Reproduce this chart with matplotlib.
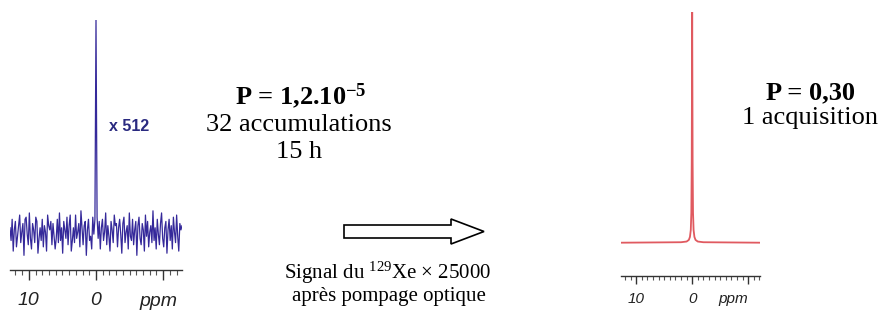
import numpy as np
import matplotlib
matplotlib.use("Agg")
import matplotlib.pyplot as plt
from matplotlib.ticker import MultipleLocator
from matplotlib.patches import FancyArrow

plt.rcParams['font.family'] = ['Liberation Serif', 'DejaVu Serif']
plt.rcParams['mathtext.fontset'] = 'custom'
plt.rcParams['mathtext.rm'] = 'Liberation Serif'
plt.rcParams['mathtext.bf'] = 'Liberation Serif:bold'
plt.rcParams['mathtext.it'] = 'Liberation Serif:italic'

# thermal spectrum (x 512), intensities, peak = 100
left_ppm_range = (12.8, -12.8)
left_int = [2, -4, 6, -9, 1, 5, -7, -2, 3, 8, -5, 0, 4, -11, 6, 7, -1, -6, 9, -3,
            -8, 4, 1, -5, 7, 5, -10, -3, 2, -4, 6, -7, 3, 0, -9, 8, 3, 1, 5, -6,
            4, -2, -8, -3, 6, -5, 9, -4, 2, -10, 5, 1, -3, 7, -6, 3, 8, -9, -4, 2,
            -5, 8, -3, 0, 4, -7, 10, 2, -6, 3, 5, -11, 1, 6, -4, -2, -8, 7, -1, 6,
            100, 7, -3, 5, -8, 2, 6, -4, 0, 9, -6, 3, -2, -9, 5, 1, -5, 8, 3, 4,
            -7, 2, 6, -1, -10, 4, 7, -5, 0, 3, -8, 9, -2, -4, 6, -6, 1, 5, -11, 3,
            7, -3, -6, 4, 1, -9, 8, -2, 5, -7, 0, 3, -5, 10, -4, 2, -8, 6, -1, -6,
            4, 9, -3, -7, 2, 5, -10, 1, 6, -4, 3, -8, 7, 0, -5, 8, -2, -9, 4, 1,
            3]
left_ppm = np.linspace(left_ppm_range[0], left_ppm_range[1], len(left_int))

# hyperpolarised spectrum, one acquisition
right_ppm = [12.7, 2.0, 1.0, 0.6, 0.4, 0.25, 0.15, 0.08, 0.0,
             -0.08, -0.15, -0.25, -0.4, -0.6, -1.0, -2.0, -12.1]
right_int = [0, 0.2, 0.5, 1.2, 2.5, 5.5, 13, 35, 100,
             35, 13, 5.5, 2.5, 1.2, 0.5, 0.2, 0]

major_ticks = [10, 0, -10]
tick_labels = ['10', '0', '']

W, H = 880, 320
fig = plt.figure(figsize=(8.8, 3.2), dpi=100)

# overlay in pixel units for the annotations
ov = fig.add_axes([0, 0, 1, 1])
ov.set_xlim(0, W)
ov.set_ylim(H, 0)
ov.axis('off')


def box(x0, y0, x1, y1):
    return [x0 / W, 1 - y1 / H, (x1 - x0) / W, (y1 - y0) / H]


def spectrum_axes(rect, outward, majlen, minlen, lsize, pad):
    ax = fig.add_axes(rect)
    ax.patch.set_visible(False)
    for s in ['top', 'left', 'right']:
        ax.spines[s].set_visible(False)
    ax.spines['bottom'].set_position(('outward', outward))
    ax.spines['bottom'].set_color('#333333')
    ax.spines['bottom'].set_linewidth(1.0)
    ax.set_yticks([])
    ax.set_xticks(major_ticks)
    ax.set_xticklabels(tick_labels)
    ax.xaxis.set_minor_locator(MultipleLocator(1))
    ax.tick_params(axis='x', which='major', length=majlen, width=1.0,
                   color='#333333', pad=pad, labelsize=lsize, labelcolor='#222222')
    ax.tick_params(axis='x', which='minor', length=minlen, width=0.8, color='#555555')
    for lab in ax.get_xticklabels():
        lab.set_family('Liberation Sans')
        lab.set_style('italic')
    return ax


ax1 = spectrum_axes(box(10, 20, 182, 260), 7.5, 7.5, 3.5, 14, 8)
ax1.plot(left_ppm, left_int, color='#35299a', lw=0.9)
ax1.set_xlim(left_ppm_range)
ax1.set_ylim(-13.2, 100)

ax2 = spectrum_axes(box(621, 12, 760, 245), 22.0, 6, 3, 11, 6)
ax2.plot(right_ppm, right_int, color='#e05a60', lw=1.3)
ax2.set_xlim(12.7, -12.1)
ax2.set_ylim(-1, 100)

ov.text(158, 306, 'ppm', ha='center', va='baseline', fontsize=14,
        family='Liberation Sans', style='italic', color='#222222')
ov.text(733, 303, 'ppm', ha='center', va='baseline', fontsize=11,
        family='Liberation Sans', style='italic', color='#222222')

ov.text(109, 131, 'x 512', ha='left', va='baseline', fontsize=11.5,
        family='Liberation Sans', weight='bold', color='#2a2a80')

# left annotation
ov.text(235, 104, r'P = 1,2.10$^{\mathbf{-5}}$', ha='left', va='baseline',
        fontsize=19, weight='bold')
ov.text(299, 131, '32 accumulations', ha='center', va='baseline', fontsize=19)
ov.text(299, 158, '15 h', ha='center', va='baseline', fontsize=19)

# right annotation
ov.text(810, 99, 'P = 0,30', ha='center', va='baseline', fontsize=19, weight='bold')
ov.text(810, 124, '1 acquisition', ha='center', va='baseline', fontsize=19)

# hollow arrow + caption
ov.add_patch(FancyArrow(344, 231.5, 140, 0, width=13, head_width=25,
                        head_length=33, length_includes_head=True,
                        facecolor='white', edgecolor='black', lw=1.2))
ov.text(388, 279, r'Signal du $^{129}$Xe × 25000', ha='center', va='baseline',
        fontsize=15)
ov.text(389, 301, 'après pompage optique', ha='center', va='baseline', fontsize=15)

fig.savefig('out.png', dpi=100)
